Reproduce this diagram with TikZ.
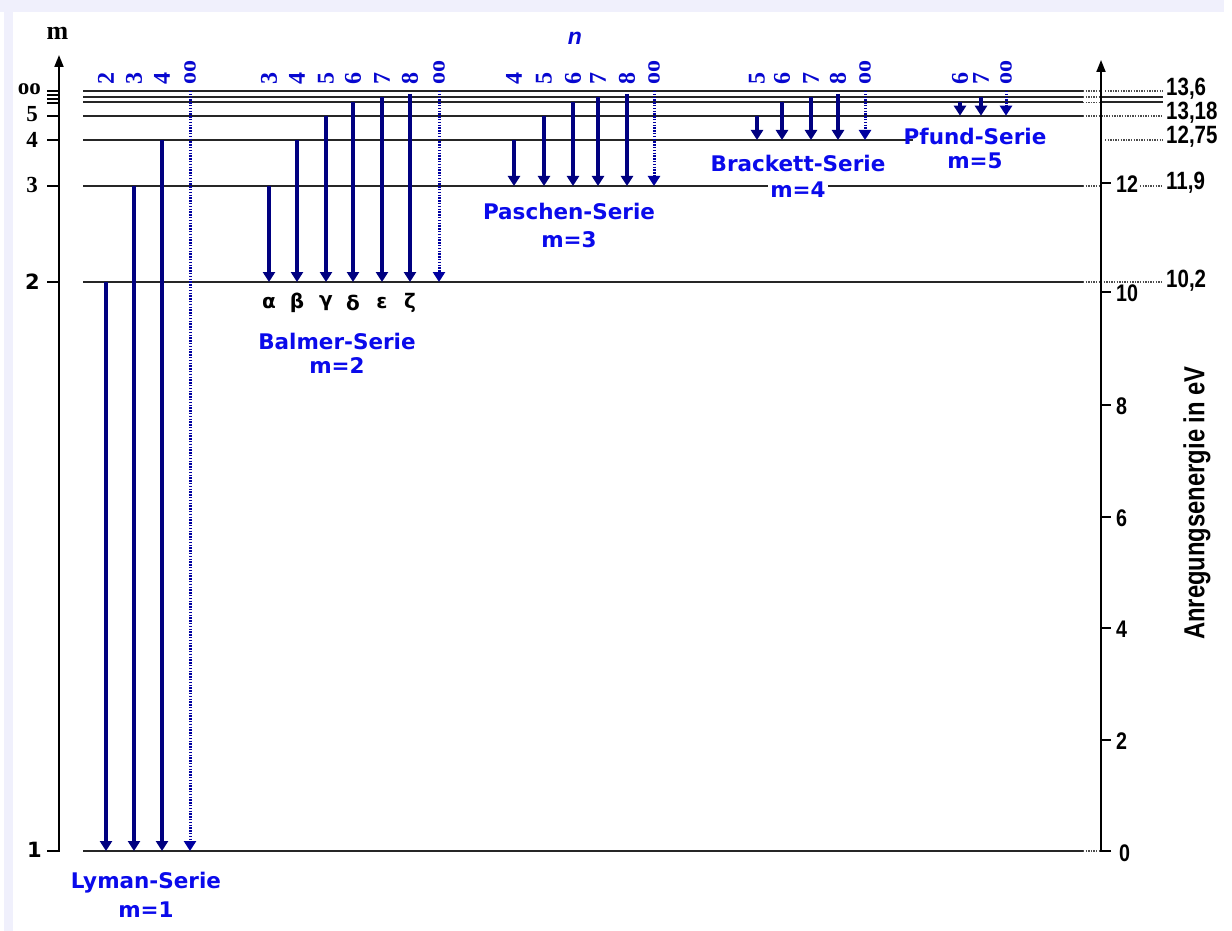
\documentclass[tikz,border=0pt]{standalone}
\usepackage{fontspec}
\setmainfont{Liberation Sans}
\newfontfamily\serieFont{DejaVu Sans}
\newfontfamily\numFont{Liberation Serif}
\newfontfamily\narrowFont[FakeStretch=0.82]{Liberation Sans}
\usetikzlibrary{arrows.meta}
\definecolor{navy}{RGB}{0,0,128}
\definecolor{serblue}{RGB}{10,10,235}
\definecolor{lavbg}{RGB}{240,240,252}
\def\yI{851}
\def\yII{282}
\def\yIII{186}
\def\yIV{140}
\def\yV{115.7}
\def\yVI{102.5}
\def\yVII{97}
\def\yVIII{94}
\def\yInf{91}
\begin{document}
\begin{tikzpicture}[x=1pt,y=-1pt,
  level/.style={line width=2pt, black!85},
  leveldot/.style={line width=1.8pt, black!70, dash pattern=on 1.3pt off 1.3pt},
  trans/.style={line width=3.6pt, navy, -{Triangle[width=12pt,length=10pt]}},
  transinf/.style={line width=3pt, navy!75!blue, dash pattern=on 1.4pt off 1.4pt, -{Triangle[width=12pt,length=10pt]}},
  axisline/.style={line width=1.8pt, black, -{Triangle[width=9pt,length=12pt]}},
  tickline/.style={line width=1.8pt, black},
  toplab/.style={rotate=90, anchor=west, inner sep=0pt, text=serblue!75!navy, font=\numFont\bfseries\fontsize{24}{26}\selectfont},
  serlab/.style={text=serblue, font=\serieFont\bfseries\fontsize{21.5}{24}\selectfont, inner sep=2pt},
  greek/.style={font=\serieFont\bfseries\fontsize{20}{22}\selectfont, inner sep=0pt},
  mlab/.style={anchor=east, inner sep=0pt, font=\numFont\bfseries\fontsize{23}{25}\selectfont},
  mlabs/.style={anchor=east, inner sep=0pt, font=\serieFont\bfseries\fontsize{21}{24}\selectfont},
  elab/.style={anchor=west, inner sep=0pt, font=\narrowFont\bfseries\fontsize{25}{27}\selectfont},
  ticklab/.style={anchor=west, inner sep=0pt, font=\narrowFont\bfseries\fontsize{24}{26}\selectfont}
]
\fill[white] (0,0) rectangle (1232,931);
\useasboundingbox (0,0) rectangle (1232,931);
\fill[lavbg] (0,0) rectangle (1224,12);
\fill[lavbg] (4,0) rectangle (13,931);

% ---------- energy levels ----------
\foreach \yy in {\yInf,\yVII,\yVI,\yV,\yIII,\yII,\yI}
  \draw[level] (83,\yy) -- (1083,\yy);
\draw[level] (83,\yIV) -- (913,\yIV);
\foreach \yy in {\yInf,\yVII,\yVI,\yIII,\yII,\yI}
  \draw[leveldot] (1083,\yy) -- (1101,\yy);
\draw[leveldot] (1083,\yV) -- (1163,\yV);
\draw[leveldot] (1105,\yInf) -- (1163,\yInf);
\draw[level] (1101,\yVII) -- (1163,\yVII);
\draw[level] (1101,\yVI) -- (1163,\yVI);
\draw[leveldot] (1105,\yIV) -- (1163,\yIV);
\draw[leveldot] (1140,\yIII) -- (1163,\yIII);
\draw[leveldot] (1101,\yII) -- (1163,\yII);

% ---------- left axis ----------
\coordinate (mbot) at (47,\yI);
\coordinate (mcorner) at (59,\yI);
\coordinate (mtop) at (59,55);
\draw[axisline] (mbot) -- (mcorner) -- (mtop);
\foreach \yy in {\yII,\yIII,\yIV,\yV,102.7,98.8,94.8,\yInf}
  \draw[tickline] (47,\yy) -- (59,\yy);
\node[font=\numFont\bfseries\fontsize{26}{28}\selectfont, inner sep=0pt] (mhead) at (57.5,33) {m};
\node[mlab] (mlinf) at (41,89) {oo};
\node[mlab] (ml5) at (38,114.5) {5};
\node[mlab] (ml4) at (38,139.5) {4};
\node[mlab] (ml3) at (38,185) {3};
\node[mlabs] (ml2) at (40,282) {2};
\node[mlabs] (ml1) at (42,850) {1};

% ---------- right axis ----------
\coordinate (ebot) at (1111,\yI);
\coordinate (ecorner) at (1101,\yI);
\coordinate (etop) at (1101,60);
\draw[axisline] (ebot) -- (ecorner) -- (etop);
\foreach \yy/\lab in {740/2,628/4,517/6,405/8,292/10,183/12}{
  \draw[tickline] (1101,\yy) -- (1111,\yy);
  \node[ticklab] (tick\lab) at (1116,\yy+1.5) {\lab};
}
\node[ticklab] (tick0) at (1119,853) {0};
\node[elab] (e136) at (1166,89) {13,6};
\node[elab] (e1318) at (1166,113) {13,18};
\node[elab] (e1275) at (1166,137) {12,75};
\node[elab] (e119) at (1166,183) {11,9};
\node[elab] (e102) at (1166,281) {10,2};
\node[rotate=90, font=\narrowFont\bfseries\fontsize{29}{31}\selectfont, inner sep=0pt] (eaxis) at (1197,503) {Anregungsenergie in eV};

% ---------- n label ----------
\node[text=serblue!80!navy, font=\bfseries\itshape\fontsize{23}{25}\selectfont, inner sep=0pt] (nhead) at (575,38) {n};

% ---------- Lyman ----------
\foreach \xx/\ys/\lab in {106/\yII/2, 134/\yIII/3, 162/\yIV/4}{
  \coordinate (ly\lab a) at (\xx,\ys);
  \coordinate (ly\lab b) at (\xx,\yI);
  \draw[trans] (ly\lab a) -- (ly\lab b);
  \node[toplab] (lyt\lab) at (\xx,85) {\lab};
}
\coordinate (lyia) at (190,\yInf);
\coordinate (lyib) at (190,\yI);
\draw[transinf] (lyia) -- (lyib);
\node[toplab] (lyti) at (190,85) {oo};
\node[serlab] (lyman) at (146,883) {Lyman-Serie};
\node[serlab] (lymanm) at (146,910) {m=1};

% ---------- Balmer ----------
\foreach \xx/\ys/\lab/\gr in {269/\yIII/3/α, 297/\yIV/4/β, 326/\yV/5/γ, 353/\yVI/6/δ, 382/\yVII/7/ε, 410/\yVIII/8/ζ}{
  \coordinate (ba\lab a) at (\xx,\ys);
  \coordinate (ba\lab b) at (\xx,\yII);
  \draw[trans] (ba\lab a) -- (ba\lab b);
  \node[toplab] (bat\lab) at (\xx,85) {\lab};
  \node[greek] (bag\lab) at (\xx,303) {\gr};
}
\coordinate (baia) at (439,\yInf);
\coordinate (baib) at (439,\yII);
\draw[transinf] (baia) -- (baib);
\node[toplab] (bati) at (439,85) {oo};
\node[serlab] (balmer) at (337,341) {Balmer-Serie};
\node[serlab] (balmerm) at (337,366) {m=2};

% ---------- Paschen ----------
\foreach \xx/\ys/\lab in {514/\yIV/4, 544/\yV/5, 573/\yVI/6, 598/\yVII/7, 627/\yVIII/8}{
  \coordinate (pa\lab a) at (\xx,\ys);
  \coordinate (pa\lab b) at (\xx,\yIII);
  \draw[trans] (pa\lab a) -- (pa\lab b);
  \node[toplab] (pat\lab) at (\xx,85) {\lab};
}
\coordinate (paia) at (654,\yInf);
\coordinate (paib) at (654,\yIII);
\draw[transinf] (paia) -- (paib);
\node[toplab] (pati) at (654,85) {oo};
\node[serlab] (paschen) at (569,211) {Paschen-Serie};
\node[serlab] (paschenm) at (569,240) {m=3};

% ---------- Brackett ----------
\foreach \xx/\ys/\lab in {757/\yV/5, 782/\yVI/6, 811/\yVII/7, 838/\yVIII/8}{
  \coordinate (br\lab a) at (\xx,\ys);
  \coordinate (br\lab b) at (\xx,\yIV);
  \draw[trans] (br\lab a) -- (br\lab b);
  \node[toplab] (brt\lab) at (\xx,85) {\lab};
}
\coordinate (bria) at (865,\yInf);
\coordinate (brib) at (865,\yIV);
\draw[transinf] (bria) -- (brib);
\node[toplab] (brti) at (865,85) {oo};
\node[serlab] (brackett) at (798,163) {Brackett-Serie};
\node[serlab, fill=white] (brackettm) at (798,190) {m=4};

% ---------- Pfund ----------
\foreach \xx/\ys/\lab in {960/\yVI/6, 981/\yVII/7}{
  \coordinate (pf\lab a) at (\xx,\ys);
  \coordinate (pf\lab b) at (\xx,\yV);
  \draw[trans] (pf\lab a) -- (pf\lab b);
  \node[toplab] (pft\lab) at (\xx,85) {\lab};
}
\coordinate (pfia) at (1006,\yInf);
\coordinate (pfib) at (1006,\yV);
\draw[transinf] (pfia) -- (pfib);
\node[toplab] (pfti) at (1006,85) {oo};
\node[serlab] (pfund) at (975,136) {Pfund-Serie};
\node[serlab] (pfundm) at (975,161) {m=5};
\end{tikzpicture}
\end{document}
